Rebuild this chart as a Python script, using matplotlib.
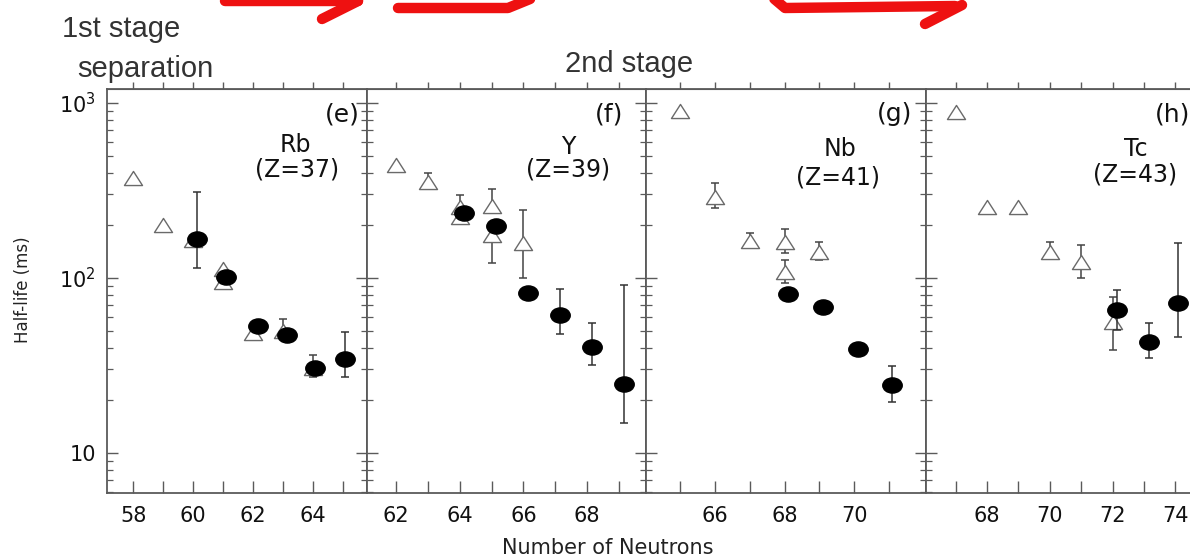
import numpy as np
import matplotlib
matplotlib.use('Agg')
import matplotlib.pyplot as plt
from matplotlib.path import Path
from matplotlib.lines import Line2D
from matplotlib.transforms import Affine2D
from matplotlib.ticker import FixedLocator, FixedFormatter, NullFormatter

plt.rcParams['font.family'] = ['DejaVu Sans']

# half-lives (ms) vs neutron number
# open triangles = earlier data, filled circles = new data
# *_lo / *_hi are error bar ends (None = no bar)

# (e) Rb
rb_tri_n = [58, 59, 60, 61, 61, 62, 63, 64]
rb_tri_t = [373, 201, 165, 112, 95, 48.5, 50, 30.6]
rb_tri_lo = [None, None, None, None, None, None, 45, 27]
rb_tri_hi = [None, None, None, None, None, None, 58, 36.3]
rb_dot_n = [60.12, 61.1, 62.15, 63.12, 64.08, 65.08]
rb_dot_t = [167, 101, 53, 47.3, 30.6, 34.4]
rb_dot_lo = [114, None, None, None, None, 27]
rb_dot_hi = [310, None, None, None, None, 49]

# (f) Y
y_tri_n = [62, 63, 64, 64, 65, 65, 66]
y_tri_t = [443, 354, 255, 223, 258, 176, 158]
y_tri_lo = [None, 325, 255, None, 258, 122, 100]
y_tri_hi = [None, 398, 298, None, 323, 176, 245]
y_dot_n = [64.15, 65.15, 66.15, 67.15, 68.15, 69.15]
y_dot_t = [236, 198, 82, 61.5, 40.4, 24.8]
y_dot_lo = [None, None, None, 48, 31.8, 14.8]
y_dot_hi = [None, None, None, 86.5, 55, 91]

# (g) Nb
nb_tri_n = [65, 66, 67, 68, 68, 69]
nb_tri_t = [900, 290, 163, 161, 108, 141]
nb_tri_lo = [None, 251, 163, 139, 94, 127]
nb_tri_hi = [None, 349, 181, 190, 127, 161]
nb_dot_n = [68.1, 69.1, 70.1, 71.1]
nb_dot_t = [81, 68, 39.3, 24.5]
nb_dot_lo = [None, None, 37.3, 19.5]
nb_dot_hi = [None, None, 41.5, 31.4]

# (h) Tc
tc_tri_n = [67, 68, 69, 70, 71, 72]
tc_tri_t = [889, 255, 255, 141, 123, 56]
tc_tri_lo = [None, None, None, 130, 100, 38.8]
tc_tri_hi = [None, None, None, 161, 155, 78]
tc_dot_n = [72.15, 73.15, 74.1]
tc_dot_t = [65.6, 43, 72]
tc_dot_lo = [50.5, 34.9, 46]
tc_dot_hi = [85, 55, 158]

panel_tags = ['(e)', '(f)', '(g)', '(h)']
elements = ['Rb', 'Y', 'Nb', 'Tc']
z_labels = ['(Z=37)', '(Z=39)', '(Z=41)', '(Z=43)']
x_ticks = [[58, 60, 62, 64], [62, 64, 66, 68], [66, 68, 70], [68, 70, 72, 74]]
x_minor = [range(58, 66), range(62, 70), range(65, 72), range(67, 76)]
x_lims = [(57.13, 65.8), (61.09, 69.85), (64.01, 72.07), (66.05, 75.3)]
y_ticks = [10, 100, 1000]
y_tick_labels = ['10', r'$\mathregular{10^2}$', r'$\mathregular{10^3}$']

data = [
    (rb_tri_n, rb_tri_t, rb_tri_lo, rb_tri_hi, rb_dot_n, rb_dot_t, rb_dot_lo, rb_dot_hi),
    (y_tri_n, y_tri_t, y_tri_lo, y_tri_hi, y_dot_n, y_dot_t, y_dot_lo, y_dot_hi),
    (nb_tri_n, nb_tri_t, nb_tri_lo, nb_tri_hi, nb_dot_n, nb_dot_t, nb_dot_lo, nb_dot_hi),
    (tc_tri_n, tc_tri_t, tc_tri_lo, tc_tri_hi, tc_dot_n, tc_dot_t, tc_dot_lo, tc_dot_hi),
]

W, H = 1190, 559
fig = plt.figure(figsize=(W / 100, H / 100), dpi=100)

# panel edges in pixels (left, right), shared top/bottom
# last panel runs off the right edge, as in the cropped original
edges = [(107, 367), (367, 646), (646, 926), (926, 1216)]
top_px, bot_px = 89, 493

# label spots inside each panel (axes fraction): element x, y, Z x, y
label_pos = [(0.723, 0.861, 0.731, 0.80), (0.72, 0.856, 0.72, 0.80),
             (0.693, 0.851, 0.686, 0.782), (0.725, 0.852, 0.72, 0.788)]
tag_pos = [(0.973, 'right'), (0.918, 'right'), (0.95, 'right'), (0.79, 'left')]

# slightly squashed markers like the scanned figure
tri_marker = Path([(0, 0.78), (-1, -0.78), (1, -0.78), (0, 0.78)],
                  [Path.MOVETO, Path.LINETO, Path.LINETO, Path.CLOSEPOLY])
ell_marker = Path.unit_circle().transformed(Affine2D().scale(1.0, 0.78))

spine_col = '#5a5a5a'
txt_col = '#111111'


def draw_err(ax, n, t, lo, hi, color, z):
    for x, y, a, b in zip(n, t, lo, hi):
        if a is None:
            continue
        ax.errorbar([x], [y], yerr=[[y - a], [b - y]], fmt='none', ecolor=color,
                    elinewidth=1.1, capsize=3.2, capthick=1.1, zorder=z)


for i, (l, r) in enumerate(edges):
    ax = fig.add_axes([l / W, 1 - bot_px / H, (r - l) / W, (bot_px - top_px) / H])
    tn, tt, tlo, thi, dn, dt, dlo, dhi = data[i]

    draw_err(ax, tn, tt, tlo, thi, '#444444', 2)
    ax.plot(tn, tt, linestyle='none', marker=tri_marker, markersize=13,
            markerfacecolor='white', markeredgecolor='#6a6a6a', markeredgewidth=1.0, zorder=3)
    draw_err(ax, dn, dt, dlo, dhi, '#333333', 4)
    ax.plot(dn, dt, linestyle='none', marker=ell_marker, markersize=14,
            color='black', zorder=5)

    ax.set_yscale('log')
    ax.set_ylim(5.907, 1202)
    ax.set_xlim(*x_lims[i])

    ax.yaxis.set_major_locator(FixedLocator(y_ticks))
    if i == 0:
        ax.yaxis.set_major_formatter(FixedFormatter(y_tick_labels))
    else:
        ax.yaxis.set_major_formatter(NullFormatter())
    ax.yaxis.set_minor_formatter(NullFormatter())
    ax.xaxis.set_major_locator(FixedLocator(x_ticks[i]))
    ax.xaxis.set_minor_locator(FixedLocator(list(x_minor[i])))

    ax.tick_params(axis='y', which='major', direction='in', left=True, right=True,
                   length=8, width=1.0, color=spine_col, labelsize=15, pad=8,
                   labelcolor=txt_col)
    ax.tick_params(axis='y', which='minor', direction='in', left=True, right=True,
                   length=4, width=0.9, color=spine_col)
    ax.tick_params(axis='x', which='both', direction='in', bottom=True, top=False,
                   length=9, width=1.0, color=spine_col, labelsize=15, pad=9,
                   labelcolor=txt_col)

    # ticks of the panel row above, sitting on the shared top edge
    sec = ax.secondary_xaxis('top')
    sec.set_xticks(list(x_minor[i]))
    sec.tick_params(direction='out', length=5, width=1.0, color=spine_col, labeltop=False)
    sec.spines['top'].set_color(spine_col)

    for s in ax.spines.values():
        s.set_color(spine_col)
        s.set_linewidth(1.3)

    tx, tha = tag_pos[i]
    ax.text(tx, 0.938, panel_tags[i], transform=ax.transAxes,
            ha=tha, va='center', fontsize=18, color=txt_col)
    ex, ey, zx, zy = label_pos[i]
    ax.text(ex, ey, elements[i], transform=ax.transAxes, ha='center', va='center',
            fontsize=17, color=txt_col)
    ax.text(zx, zy, z_labels[i], transform=ax.transAxes, ha='center', va='center',
            fontsize=17, color=txt_col)

fig.text(608 / W, 1 - 548 / H, 'Number of Neutrons', ha='center', va='center',
         fontsize=15, color='#222222')
fig.text(23 / W, 1 - 290 / H, 'Half-life (ms)', ha='center', va='center',
         rotation=90, fontsize=12, color='#222222')

# annotations from the slide above the plot
fig.text(62 / W, 1 - 37 / H, '1st stage', ha='left', va='baseline',
         fontsize=21, family='Liberation Sans', color='#333333')
fig.text(77 / W, 1 - 77 / H, 'separation', ha='left', va='baseline',
         fontsize=21, family='Liberation Sans', color='#333333')
fig.text(565 / W, 1 - 72 / H, '2nd stage', ha='left', va='baseline',
         fontsize=21, family='Liberation Sans', color='#333333')


def px_line(xs, ys):
    fig.add_artist(Line2D([x / W for x in xs], [1 - y / H for y in ys],
                          transform=fig.transFigure, color='#ee1111', linewidth=7.5,
                          solid_capstyle='round', solid_joinstyle='round'))


px_line([225, 358], [1, 1])
px_line([322, 358], [19, 1])
px_line([398, 508, 535], [8, 8, -3])
px_line([772, 785, 955], [-3, 8, 6])
px_line([925, 962], [24, 5])

fig.savefig('out.png', dpi=100)
